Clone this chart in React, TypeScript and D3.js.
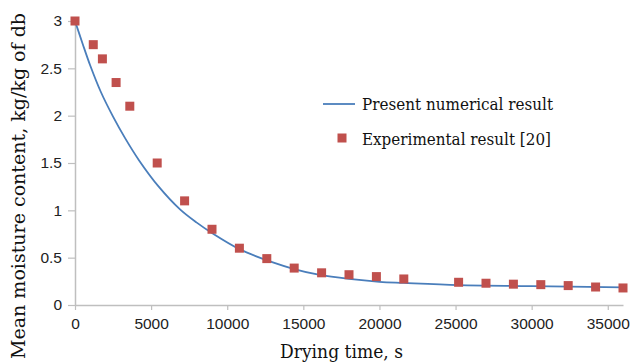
import { useEffect, useRef } from "react";
import * as d3 from "d3";

// experimental points
const expTime = [0, 1200, 1800, 2700, 3600, 5400, 7200, 9000, 10800, 12600, 14400, 16200, 18000, 19800, 21600, 25200, 27000, 28800, 30600, 32400, 34200, 36000];
const expMoisture = [3.0, 2.75, 2.6, 2.35, 2.1, 1.5, 1.1, 0.8, 0.6, 0.49, 0.39, 0.34, 0.32, 0.3, 0.275, 0.24, 0.23, 0.22, 0.215, 0.205, 0.19, 0.18];

// numerical curve, sampled off the figure
const curveTime = [0, 500, 1000, 1700, 2500, 3300, 4200, 5500, 6900, 8000, 9000, 10800, 13000, 14400, 16000, 18000, 20000, 21600, 25200, 30000, 36000];
const curveMoisture = [3.0, 2.76, 2.53, 2.25, 1.99, 1.76, 1.53, 1.25, 1.01, 0.87, 0.76, 0.59, 0.45, 0.38, 0.32, 0.275, 0.245, 0.233, 0.21, 0.2, 0.187];

const xTicks = [0, 5000, 10000, 15000, 20000, 25000, 30000, 35000];
const yTicks = [0, 0.5, 1, 1.5, 2, 2.5, 3];

const App = () => {
  const svgRef = useRef<SVGSVGElement>(null);

  useEffect(() => {
    if (!svgRef.current) return;
    const svg = d3.select(svgRef.current);
    svg.selectAll("*").remove();

    const width = 632;
    const height = 364;
    svg.attr("width", width).attr("height", height).style("background", "#fff");

    const x = d3.scaleLinear().domain([0, 36000]).range([75, 623]);
    const y = d3.scaleLinear().domain([0, 3]).range([305, 21]);

    const axisColor = "#bfbfbf";
    const tickFont = "Liberation Sans, Arial, sans-serif";

    // x axis
    const xAxis = svg.append("g").attr("transform", `translate(0,${y(0)})`)
      .call(d3.axisBottom(x).tickValues(xTicks).tickSize(5).tickSizeOuter(0).tickFormat(d3.format("d")));
    xAxis.select(".domain").attr("stroke", axisColor).attr("stroke-width", 1.5);
    xAxis.selectAll(".tick line").attr("stroke", axisColor).attr("stroke-width", 1.2);
    xAxis.selectAll(".tick text")
      .attr("fill", "#222").attr("font-size", 15.5).attr("font-family", tickFont).attr("dy", "1.05em");

    // y axis
    const yAxis = svg.append("g").attr("transform", `translate(${x(0)},0)`)
      .call(d3.axisLeft(y).tickValues(yTicks).tickSize(7).tickSizeOuter(0).tickFormat((d: any) => `${d}`));
    yAxis.select(".domain").attr("stroke", axisColor).attr("stroke-width", 1.5);
    yAxis.selectAll(".tick line").attr("stroke", axisColor).attr("stroke-width", 1.2);
    yAxis.selectAll(".tick text")
      .attr("fill", "#222").attr("font-size", 15.5).attr("font-family", tickFont).attr("x", -13);

    // numerical curve
    const line = d3.line<number>()
      .x((_, i) => x(curveTime[i]))
      .y((d) => y(d))
      .curve(d3.curveCatmullRom.alpha(0.5));
    svg.append("path")
      .datum(curveMoisture)
      .attr("d", line)
      .attr("fill", "none")
      .attr("stroke", "#4a7ebb")
      .attr("stroke-width", 1.8);

    // experimental markers
    const m = 9;
    svg.append("g").selectAll("rect")
      .data(expMoisture)
      .enter()
      .append("rect")
      .attr("x", (_, i) => x(expTime[i]) - m / 2)
      .attr("y", (d) => y(d) - m / 2)
      .attr("width", m)
      .attr("height", m)
      .attr("fill", "#c0504d");

    const serif = "DejaVu Serif, serif";

    // legend
    const lg = svg.append("g");
    lg.append("line").attr("x1", 323).attr("x2", 355).attr("y1", 104).attr("y2", 104)
      .attr("stroke", "#4a7ebb").attr("stroke-width", 1.8);
    lg.append("text").attr("x", 362).attr("y", 110).attr("font-family", serif).attr("font-size", 16.5)
      .attr("textLength", 191).attr("lengthAdjust", "spacingAndGlyphs").attr("fill", "#111")
      .text("Present numerical result");
    lg.append("rect").attr("x", 342 - m / 2).attr("y", 138 - m / 2).attr("width", m).attr("height", m)
      .attr("fill", "#c0504d");
    lg.append("text").attr("x", 362).attr("y", 145).attr("font-family", serif).attr("font-size", 16.5)
      .attr("textLength", 189).attr("lengthAdjust", "spacingAndGlyphs").attr("fill", "#111")
      .text("Experimental result [20]");

    // axis titles
    svg.append("text").attr("x", 341.5).attr("y", 358).attr("text-anchor", "middle")
      .attr("font-family", serif).attr("font-size", 18).attr("textLength", 123)
      .attr("lengthAdjust", "spacingAndGlyphs").attr("fill", "#111")
      .text("Drying time, s");
    svg.append("text").attr("transform", `translate(25,186) rotate(-90)`).attr("text-anchor", "middle")
      .attr("font-family", serif).attr("font-size", 19).attr("textLength", 346)
      .attr("lengthAdjust", "spacingAndGlyphs").attr("fill", "#111")
      .text("Mean moisture content, kg/kg of db");
  }, []);

  return (
    <div style={{ position: "absolute", left: 0, top: 0 }}>
      <svg ref={svgRef} style={{ display: "block" }} />
    </div>
  );
};

export default App;
